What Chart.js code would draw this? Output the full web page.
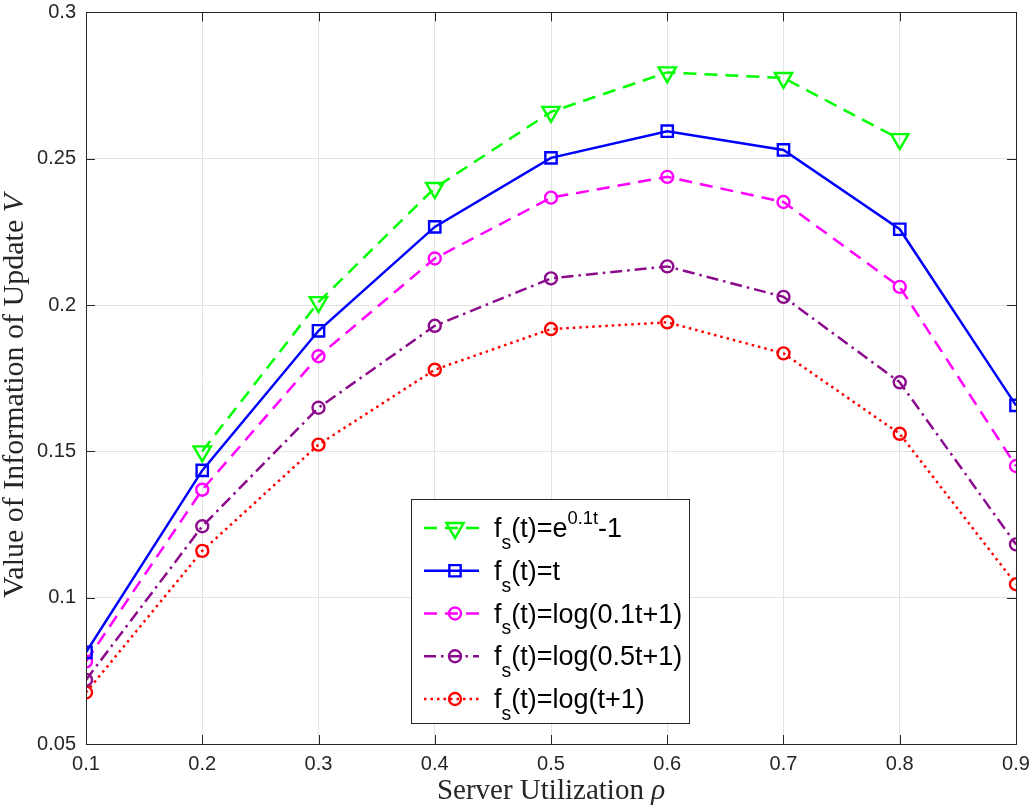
<!DOCTYPE html>
<html>
<head>
<meta charset="utf-8">
<script src="https://cdn.jsdelivr.net/npm/chart.js@4.4.1/dist/chart.umd.min.js"></script>
<style>
  body { margin: 0; background: #fff; }
  canvas { display: block; }
</style>
</head>
<body>
<canvas id="voiChart" width="1032" height="807"></canvas>
<script>
// x values (server utilization)
const rho = [0.1, 0.2, 0.3, 0.4, 0.5, 0.6, 0.7, 0.8, 0.9];

// series values
const vExp   = [null, 0.150, 0.201, 0.240, 0.266, 0.2795, 0.2776, 0.2567, null];
const vLin   = [0.0813, 0.1435, 0.1912, 0.2267, 0.2503, 0.2594, 0.2530, 0.2259, 0.1657];
const vLog01 = [0.0782, 0.1369, 0.1825, 0.2159, 0.2367, 0.2438, 0.2352, 0.2062, 0.1450];
const vLog05 = [0.0719, 0.1244, 0.1649, 0.1929, 0.2091, 0.2132, 0.2028, 0.1736, 0.1182];
const vLog1  = [0.0676, 0.1160, 0.1523, 0.1779, 0.1918, 0.1941, 0.1835, 0.1560, 0.1046];

// tick values / labels
const xTickValues = [0.1, 0.2, 0.3, 0.4, 0.5, 0.6, 0.7, 0.8, 0.9];
const xTickLabels = ['0.1', '0.2', '0.3', '0.4', '0.5', '0.6', '0.7', '0.8', '0.9'];
const yTickValues = [0.05, 0.1, 0.15, 0.2, 0.25, 0.3];
const yTickLabels = ['0.05', '0.1', '0.15', '0.2', '0.25', '0.3'];

// legend labels (rich text pieces)
const legendLabels = [
    [{ t: 'f' }, { t: 's', sub: true }, { t: '(t)=e' }, { t: '0.1t', sup: true }, { t: '-1' }],
    [{ t: 'f' }, { t: 's', sub: true }, { t: '(t)=t' }],
    [{ t: 'f' }, { t: 's', sub: true }, { t: '(t)=log(0.1t+1)' }],
    [{ t: 'f' }, { t: 's', sub: true }, { t: '(t)=log(0.5t+1)' }],
    [{ t: 'f' }, { t: 's', sub: true }, { t: '(t)=log(t+1)' }]
];

const TICK_FONT = '"Liberation Sans", Arial, sans-serif';
const SERIF = '"Liberation Serif", "Times New Roman", serif';
const INK = '#262626';

function toPoints(values) {
    return rho.map((x, i) => ({ x: x, y: values[i] }));
}

function series(label, values, color, dash, style, radius) {
    return {
        label: label,
        data: toPoints(values),
        borderColor: color,
        backgroundColor: color,
        borderWidth: 2.5,
        borderDash: dash,
        borderCapStyle: 'butt',
        pointStyle: style,
        pointRadius: radius,
        pointRotation: style === 'triangle' ? 180 : 0,
        pointBorderColor: color,
        pointBackgroundColor: 'rgba(0,0,0,0)',
        pointBorderWidth: 2.4,
        tension: 0,
        spanGaps: false
    };
}

// draw text made of normal / sub / sup pieces
function drawRich(ctx, x, y, parts, size) {
    parts.forEach(p => {
        let fs = size, dy = 0;
        if (p.sub) { fs = size * 0.72; dy = size * 0.44; }
        if (p.sup) { fs = size * 0.68; dy = -size * 0.5; }
        ctx.font = fs + 'px ' + TICK_FONT;
        ctx.fillText(p.t, x, y + dy);
        x += ctx.measureText(p.t).width;
    });
}

// text with an italic last symbol, centred on x
function drawTitle(ctx, x, y, main, symbol, size) {
    ctx.font = size + 'px ' + SERIF;
    const wMain = ctx.measureText(main).width;
    ctx.font = 'italic ' + size + 'px ' + SERIF;
    const wSym = ctx.measureText(symbol).width;
    const start = x - (wMain + wSym) / 2;
    ctx.font = size + 'px ' + SERIF;
    ctx.fillText(main, start, y);
    ctx.font = 'italic ' + size + 'px ' + SERIF;
    ctx.fillText(symbol, start + wMain, y);
}

// frame, inward ticks and axis titles
const frameAndTitles = {
    id: 'frameAndTitles',
    afterDatasetsDraw(chart) {
        const ctx = chart.ctx;
        const a = chart.chartArea;
        const xs = chart.scales.x, ys = chart.scales.y;
        ctx.save();
        ctx.strokeStyle = INK;
        ctx.lineWidth = 1;
        ctx.setLineDash([]);
        ctx.strokeRect(Math.round(a.left) + 0.5, Math.round(a.top) + 0.5,
            Math.round(a.right - a.left), Math.round(a.bottom - a.top));
        ctx.beginPath();
        xTickValues.forEach(v => {
            const px = Math.round(xs.getPixelForValue(v)) + 0.5;
            ctx.moveTo(px, a.bottom); ctx.lineTo(px, a.bottom - 9);
            ctx.moveTo(px, a.top); ctx.lineTo(px, a.top + 9);
        });
        yTickValues.forEach(v => {
            const py = Math.round(ys.getPixelForValue(v)) + 0.5;
            ctx.moveTo(a.left, py); ctx.lineTo(a.left + 9, py);
            ctx.moveTo(a.right, py); ctx.lineTo(a.right - 9, py);
        });
        ctx.stroke();

        // axis titles
        ctx.fillStyle = INK;
        ctx.textBaseline = 'middle';
        ctx.textAlign = 'left';
        drawTitle(ctx, (a.left + a.right) / 2, 791, 'Server Utilization ', 'ρ', 29);

        ctx.translate(15, 396);
        ctx.rotate(-Math.PI / 2);
        drawTitle(ctx, 0, 0, 'Value of Information of Update ', 'V', 30);
        ctx.restore();
    }
};

// legend box with sub/superscripts
const richLegend = {
    id: 'richLegend',
    afterDraw(chart) {
        const ctx = chart.ctx;
        const box = { left: 411.5, top: 499.5, right: 689.5, bottom: 723.5 };
        ctx.save();
        ctx.fillStyle = '#fff';
        ctx.fillRect(box.left, box.top, box.right - box.left, box.bottom - box.top);
        ctx.strokeStyle = INK;
        ctx.lineWidth = 1;
        ctx.strokeRect(box.left, box.top, box.right - box.left, box.bottom - box.top);

        chart.data.datasets.forEach((ds, i) => {
            const y = 528 + i * 42.75;
            ctx.strokeStyle = ds.borderColor;
            ctx.lineWidth = ds.borderWidth;
            ctx.setLineDash(ds.borderDash);
            ctx.lineCap = 'butt';
            ctx.beginPath();
            ctx.moveTo(424, y);
            ctx.lineTo(479, y);
            ctx.stroke();
            ctx.setLineDash([]);
            ctx.lineWidth = ds.pointBorderWidth;
            ctx.fillStyle = 'rgba(0,0,0,0)';
            Chart.helpers.drawPoint(ctx, {
                pointStyle: ds.pointStyle,
                rotation: ds.pointRotation,
                radius: ds.pointRadius,
                borderWidth: ds.pointBorderWidth
            }, 455, y);
            ctx.fillStyle = '#000';
            ctx.textAlign = 'left';
            ctx.textBaseline = 'alphabetic';
            drawRich(ctx, 494, y + 9, legendLabels[i], 27);
        });
        ctx.restore();
    }
};

const datasets = [
    series('exp', vExp, '#00ff00', [13, 8], 'triangle', 10),
    series('lin', vLin, '#0000ff', [], 'rect', 8),
    series('log01', vLog01, '#ff00ff', [13, 8], 'circle', 6),
    series('log05', vLog05, '#8c0a8c', [12, 5, 2.5, 5], 'circle', 6),
    series('log1', vLog1, '#ff0000', [2.5, 4], 'circle', 6)
];

const voiChart = new Chart(document.getElementById('voiChart'), {
    type: 'line',
    data: { datasets: datasets },
    options: {
        responsive: false,
        animation: false,
        devicePixelRatio: 1,
        layout: { padding: { top: 11, right: 16, left: 0, bottom: 0 } },
        plugins: {
            legend: { display: false },
            tooltip: { enabled: false }
        },
        scales: {
            x: {
                type: 'linear',
                min: 0.1,
                max: 0.9,
                afterBuildTicks: s => { s.ticks = xTickValues.map(v => ({ value: v })); },
                afterFit: s => {
                    s.height = 63;
                    s.paddingLeft = 0;
                    s.paddingRight = 0;
                },
                ticks: {
                    callback: (v, i) => xTickLabels[i],
                    font: { family: TICK_FONT, size: 20 },
                    color: INK,
                    padding: 8,
                    maxRotation: 0
                },
                grid: { color: '#e3e3e3', lineWidth: 1, drawTicks: false },
                border: { display: false }
            },
            y: {
                type: 'linear',
                min: 0.05,
                max: 0.3,
                afterBuildTicks: s => { s.ticks = yTickValues.map(v => ({ value: v })); },
                afterFit: s => {
                    s.width = 86;
                    s.paddingTop = 0;
                    s.paddingBottom = 0;
                },
                ticks: {
                    callback: (v, i) => yTickLabels[i],
                    font: { family: TICK_FONT, size: 20 },
                    color: INK,
                    padding: 10
                },
                grid: { color: '#e3e3e3', lineWidth: 1, drawTicks: false },
                border: { display: false }
            }
        }
    },
    plugins: [frameAndTitles, richLegend]
});
</script>
</body>
</html>
